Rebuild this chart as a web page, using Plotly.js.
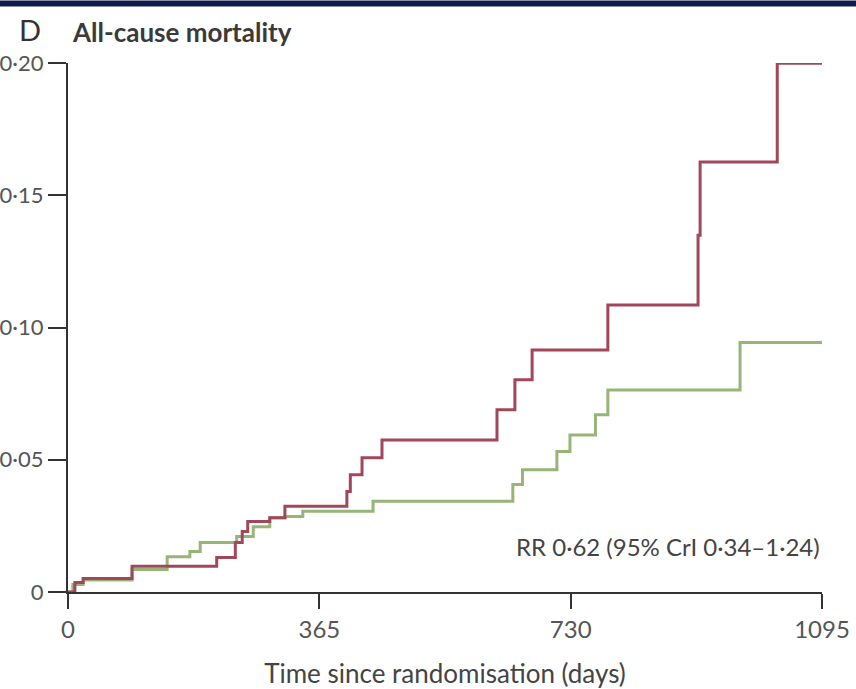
<!DOCTYPE html>
<html>
<head>
<meta charset="utf-8">
<script src="https://cdn.plot.ly/plotly-3.0.1.min.js"></script>
<style>html,body{margin:0;padding:0;background:#fff;}#chart{width:856px;height:689px;}</style>
</head>
<body>
<div id="chart"></div>
<script>
// Control group (red) – cumulative incidence, step function
const redDays   = [0, 10, 22, 93, 216, 243, 253, 261, 293, 315, 405, 410, 427, 456, 623, 649, 674, 784, 915, 918, 1030, 1099];
const redValues = [0, 0.0036, 0.0051, 0.0097, 0.0130, 0.0187, 0.0229, 0.0267, 0.0281, 0.0324, 0.0380, 0.0443, 0.0508, 0.0575, 0.0689, 0.0802, 0.0915, 0.1085, 0.1349, 0.1626, 0.1999, 0.1999];

// Intervention group (green)
const greenDays   = [0, 7, 22, 93, 144, 177, 192, 245, 269, 293, 315, 341, 443, 646, 660, 710, 729, 766, 784, 976, 1097];
const greenValues = [0, 0.0028, 0.0045, 0.0085, 0.0133, 0.0153, 0.0187, 0.0210, 0.0247, 0.0281, 0.0285, 0.0305, 0.0343, 0.0406, 0.0462, 0.0531, 0.0594, 0.0670, 0.0764, 0.0943, 0.0943];

const xTickVals = [0, 365, 730, 1095];
const xTickText = ["0", "365", "730", "1095"];
const yTickVals = [0, 0.05, 0.10, 0.15, 0.20];
const yTickText = ["0", "0·05", "0·10", "0·15", "0·20"];

const FONT = "Lato, 'Noto Sans', 'Liberation Sans', sans-serif";

const traces = [
  {x: greenDays, y: greenValues, type: 'scatter', mode: 'lines', line: {shape: 'hv', color: '#97b577', width: 3}, name: 'Intervention', hoverinfo: 'skip', cliponaxis: false},
  {x: redDays, y: redValues, type: 'scatter', mode: 'lines', line: {shape: 'hv', color: '#a0475b', width: 3}, name: 'Control', hoverinfo: 'skip', cliponaxis: false}
];

const layout = {
  width: 856, height: 689,
  margin: {l: 68, r: 34, t: 62.5, b: 96.5},
  paper_bgcolor: '#fff', plot_bgcolor: '#fff',
  showlegend: false,
  font: {family: FONT, color: '#555', size: 22},
  title: {
    text: 'D',
    font: {family: FONT, size: 29, color: '#333'},
    xref: 'container', x: 19/856, xanchor: 'left',
    yref: 'container', y: 1 - 31/689, yanchor: 'middle'
  },
  xaxis: {
    range: [0, 1095], tickvals: xTickVals, ticktext: xTickText,
    showgrid: false, zeroline: false, showline: true, linecolor: '#333', linewidth: 2,
    ticks: 'outside', ticklen: 15, tickwidth: 2, tickcolor: '#333',
    tickfont: {family: FONT, size: 24, color: '#555'},
    title: {text: 'Time since randomisation (days)', font: {family: FONT, size: 26, color: '#444'}, standoff: 28},
    automargin: false, fixedrange: true
  },
  yaxis: {
    range: [0, 0.20], tickvals: yTickVals, ticktext: yTickText,
    showgrid: false, zeroline: false, showline: true, linecolor: '#333', linewidth: 2,
    ticks: 'outside', ticklen: 18, tickwidth: 2, tickcolor: '#333',
    tickfont: {family: FONT, size: 22, color: '#555'},
    automargin: false, fixedrange: true
  },
  annotations: [
    {
      text: '<b>All-cause mortality</b>',
      xref: 'paper', yref: 'paper', x: (70-68)/754, y: 1 + (62.5-31)/530,
      xanchor: 'left', yanchor: 'middle', showarrow: false,
      font: {family: FONT, size: 26, color: '#3a3a3a'}
    },
    {
      text: 'RR 0·62 (95% CrI 0·34–1·24)',
      xref: 'x', yref: 'y', x: 1095, y: 0.0172, xanchor: 'right', yanchor: 'middle',
      showarrow: false, font: {family: FONT, size: 24, color: '#444'}
    }
  ],
  shapes: [{
    type: 'rect', xref: 'paper', yref: 'paper', layer: 'above',
    x0: -68/754, x1: (856-68)/754, y0: 1 + 56.5/530, y1: 1 + 62.5/530,
    fillcolor: '#121a4a', line: {width: 0}
  }]
};

Plotly.newPlot('chart', traces, layout, {displayModeBar: false, staticPlot: true});
</script>
</body>
</html>
